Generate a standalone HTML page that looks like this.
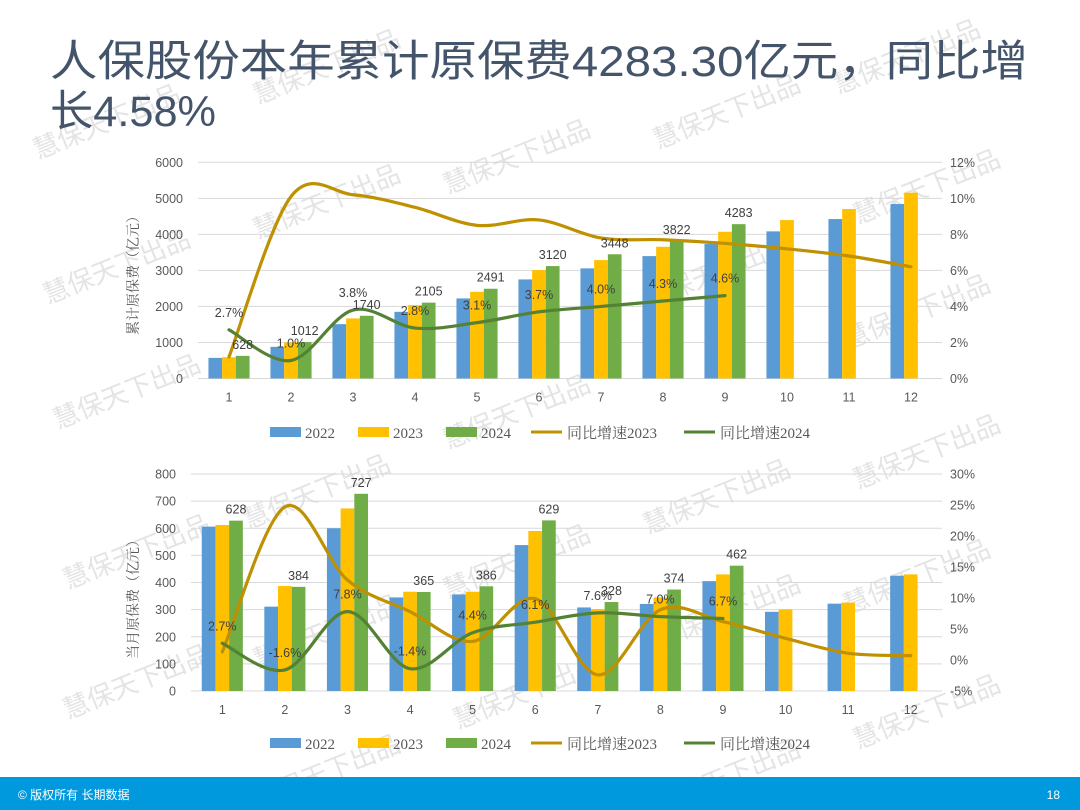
<!DOCTYPE html>
<html><head><meta charset="utf-8"><style>
html,body{margin:0;padding:0;background:#fff;}
svg{display:block;font-family:"Liberation Sans","Noto Sans CJK SC",sans-serif;}
</style></head><body>
<svg id="c" width="1080" height="810" viewBox="0 0 1080 810" xmlns="http://www.w3.org/2000/svg">
<rect width="1080" height="810" fill="#fff"/>
<g id="wm"></g>
<text x="50" y="76" font-size="43" fill="#44546a" textLength="978" lengthAdjust="spacingAndGlyphs" font-family="Liberation Sans, Noto Sans CJK SC, sans-serif">人保股份本年累计原保费4283.30亿元，同比增</text>
<text x="50" y="126" font-size="43" fill="#44546a" textLength="166" lengthAdjust="spacingAndGlyphs" font-family="Liberation Sans, Noto Sans CJK SC, sans-serif">长4.58%</text>
<g id="top"></g>
<g id="bot"></g>
<rect x="0" y="777" width="1080" height="33" fill="#0099dd"/>
<text x="18" y="799" font-size="12" fill="#fff" font-family="Liberation Sans, Noto Sans CJK SC, sans-serif">© 版权所有  长期数据</text>
<text x="1060" y="799" font-size="12" fill="#fff" text-anchor="end">18</text>
</svg>
<script>
const months = ['1','2','3','4','5','6','7','8','9','10','11','12'];
const cum2022 = [572,878,1508,1850,2222,2750,3056,3397,3731,4083,4425,4842];
const cum2023 = [590,1000,1667,2036,2406,3008,3286,3656,4072,4397,4703,5156];
const cum2024 = [628,1012,1740,2105,2491,3120,3448,3822,4283];
const cumG2023 = [1.2,10.1,10.2,9.5,8.5,8.8,7.8,7.7,7.5,7.2,6.8,6.2];
const cumG2024 = [2.7,1.0,3.8,2.8,3.1,3.7,4.0,4.3,4.6];
const cumLeftTicks = [0,1000,2000,3000,4000,5000,6000];
const cumRightTicks = [0,2,4,6,8,10,12];

const mon2022 = [606,311,600,345,356,538,308,321,405,292,322,425];
const mon2023 = [612,387,673,366,366,590,302,345,430,301,326,430];
const mon2024 = [628,384,727,365,386,629,328,374,462];
const monG2023 = [1.3,24.7,12.9,7.8,3.0,9.9,-2.4,8.1,6.2,3.5,1.1,0.7];
const monG2024 = [2.7,-1.6,7.8,-1.4,4.4,6.1,7.6,7.0,6.7];
const monLeftTicks = [0,100,200,300,400,500,600,700,800];
const monRightTicks = [-5,0,5,10,15,20,25,30];

const NS='http://www.w3.org/2000/svg';
function mk(parent,tag,attrs,text){const e=document.createElementNS(NS,tag);for(const k in attrs)e.setAttribute(k,attrs[k]);if(text!==undefined)e.textContent=text;parent.appendChild(e);return e;}
function smooth(pts){let d='M'+pts[0][0]+','+pts[0][1];for(let i=0;i<pts.length-1;i++){const p0=pts[i-1]||pts[i],p1=pts[i],p2=pts[i+1],p3=pts[i+2]||p2;const c1=[p1[0]+(p2[0]-p0[0])/6,p1[1]+(p2[1]-p0[1])/6],c2=[p2[0]-(p3[0]-p1[0])/6,p2[1]-(p3[1]-p1[1])/6];d+=' C'+c1[0]+','+c1[1]+' '+c2[0]+','+c2[1]+' '+p2[0]+','+p2[1];}return d;}

function chart(g,cfg){
  const {x0,x1,yTop,yBot,lMin,lMax,rMin,rMax,lTicks,rTicks,b22,b23,b24,g23,g24,labelX,rLabelX,yTitle,titleY,legendY,pre}=cfg;
  const step=(x1-x0)/months.length;
  const cx=i=>x0+step*(i+0.5);
  const yL=v=>yBot-(v-lMin)/(lMax-lMin)*(yBot-yTop);
  const yR=v=>yBot-(v-rMin)/(rMax-rMin)*(yBot-yTop);
  lTicks.forEach(t=>{
    const l=mk(g,'line',{x1:x0,x2:x1,y1:yL(t),y2:yL(t),stroke:'#d9d9d9','stroke-width':1});
    
    
    const tx=mk(g,'text',{x:labelX,y:yL(t)+4.5,'font-size':12.5,fill:'#595959','text-anchor':'end'},t);
    
    
  });
  rTicks.forEach(t=>{
    const tx=mk(g,'text',{x:rLabelX,y:yR(t)+4.5,'font-size':12.5,fill:'#595959'},t+'%');
    
    
  });
  const bw=13.7;
  const series=[[b22,'#5b9bd5','bar-2022'],[b23,'#ffc000','bar-2023'],[b24,'#70ad47','bar-2024']];
  months.forEach((m,i)=>{
    series.forEach((s,k)=>{
      const v=s[0][i]; if(v===undefined)return;
      const r=mk(g,'rect',{x:cx(i)-bw*1.5+k*bw,y:yL(v),width:bw,height:yBot-yL(v),fill:s[1]});
      
      
    });
    const tx=mk(g,'text',{x:cx(i),y:yBot+23,'font-size':12.5,fill:'#595959','text-anchor':'middle'},m);
    
    
  });
  const p23=mk(g,'path',{d:smooth(g23.map((v,i)=>[cx(i),yR(v)])),fill:'none',stroke:'#bf9000','stroke-width':3.2,'stroke-linecap':'round'});
  
  
  const p24=mk(g,'path',{d:smooth(g24.map((v,i)=>[cx(i),yR(v)])),fill:'none',stroke:'#548235','stroke-width':3.2,'stroke-linecap':'round'});
  
  
  b24.forEach((v,i)=>{
    const tx=mk(g,'text',{x:cx(i)+bw,y:yL(v)-7,'font-size':12.5,fill:'#404040','text-anchor':'middle','font-family':'Liberation Sans Narrow, Liberation Sans, sans-serif'},v);
    
    
  });
  g24.forEach((v,i)=>{
    const tx=mk(g,'text',{x:cx(i),y:yR(v)-13,'font-size':12.5,fill:'#404040','text-anchor':'middle','font-family':'Liberation Sans Narrow, Liberation Sans, sans-serif'},v.toFixed(1)+'%');
    
    
  });
  const yt=mk(g,'text',{x:0,y:0,'font-size':14,fill:'#595959','text-anchor':'middle',transform:'translate(138,'+titleY+') rotate(-90)','font-family':'Liberation Serif, Noto Serif CJK SC, serif'},yTitle);
  
  
  const lg=mk(g,'g',{});
  
  
  const ly=legendY;
  [['2022','#5b9bd5',270],['2023','#ffc000',358],['2024','#70ad47',446]].forEach(e=>{
    const r=mk(lg,'rect',{x:e[2],y:ly-5,width:31,height:10,fill:e[1]});
    
    
    const t=mk(lg,'text',{x:e[2]+35,y:ly+6,'font-size':15,fill:'#595959','font-family':'Liberation Serif, serif'},e[0]);
    
    
  });
  [['同比增速2023','#bf9000',531],['同比增速2024','#548235',684]].forEach(e=>{
    const l=mk(lg,'line',{x1:e[2],x2:e[2]+31,y1:ly,y2:ly,stroke:e[1],'stroke-width':3});
    
    
    const t=mk(lg,'text',{x:e[2]+36,y:ly+6,'font-size':15,fill:'#595959','font-family':'Liberation Serif, Noto Serif CJK SC, serif'},e[0]);
    
    
  });
}
chart(document.getElementById('top'),{x0:198,x1:942,yTop:162.3,yBot:378.5,lMin:0,lMax:6000,rMin:0,rMax:12,lTicks:cumLeftTicks,rTicks:cumRightTicks,b22:cum2022,b23:cum2023,b24:cum2024,g23:cumG2023,g24:cumG2024,labelX:183,rLabelX:950,yTitle:'累计原保费（亿元）',titleY:272,legendY:432,pre:'top'});
chart(document.getElementById('bot'),{x0:191,x1:942,yTop:474,yBot:691,lMin:0,lMax:800,rMin:-5,rMax:30,lTicks:monLeftTicks,rTicks:monRightTicks,b22:mon2022,b23:mon2023,b24:mon2024,g23:monG2023,g24:monG2024,labelX:176,rLabelX:950,yTitle:'当月原保费（亿元）',titleY:596,legendY:743,pre:'bot'});

const wm=document.getElementById('wm');
[[330,75],[520,165],[910,65],[110,130],[330,210],[730,120],[930,195],[120,275],[720,280],[920,320],[130,400],[520,420],[930,460],[320,500],[720,505],[140,560],[520,570],[920,585],[330,640],[730,620],[140,690],[530,700],[930,720],[330,780],[730,785]].forEach(p=>{
  const t=mk(wm,'text',{x:p[0],y:p[1],'font-size':26,fill:'#e4e4e4','text-anchor':'middle',transform:'rotate(-22 '+p[0]+' '+p[1]+')','font-family':'Noto Sans CJK SC, sans-serif'},'慧保天下出品');
  
  
});
</script>
</body></html>
